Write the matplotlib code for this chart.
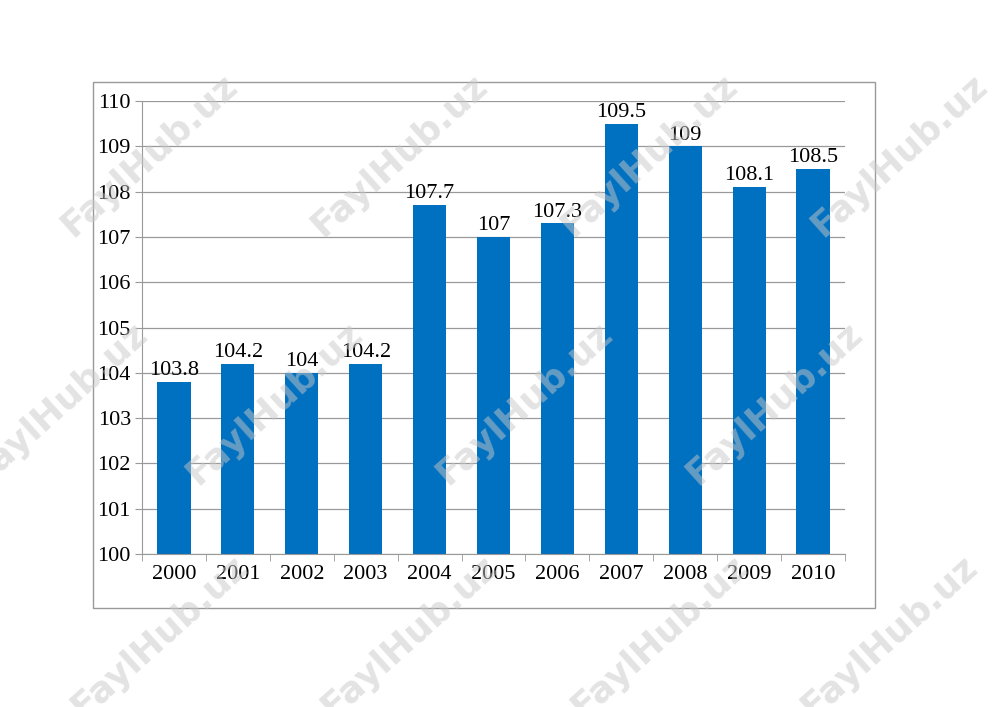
import matplotlib
matplotlib.use("Agg")
import matplotlib.pyplot as plt
from matplotlib.patches import Rectangle

# Data
years = ["2000", "2001", "2002", "2003", "2004", "2005",
         "2006", "2007", "2008", "2009", "2010"]
values = [103.8, 104.2, 104, 104.2, 107.7, 107, 107.3, 109.5, 109, 108.1, 108.5]
labels = ["103.8", "104.2", "104", "104.2", "107.7", "107", "107.3",
          "109.5", "109", "108.1", "108.5"]

plt.rcParams["font.family"] = ["Liberation Serif", "DejaVu Serif"]

fig = plt.figure(figsize=(10, 7.07), dpi=100)
fig.patch.set_facecolor("white")

# outer chart frame
fig.patches.append(Rectangle((0.093, 0.140), 0.782, 0.744, transform=fig.transFigure,
                             fill=False, edgecolor="#999999", linewidth=1.0))

ax = fig.add_axes([0.142, 0.2164, 0.703, 0.6407])
x = list(range(len(years)))
ax.bar(x, values, width=0.52, color="#0070C0", zorder=2)

for xi, v, lab in zip(x, values, labels):
    ax.text(xi, v + 0.04, lab, ha="center", va="bottom", fontsize=16, color="black", zorder=3)

ax.set_ylim(100, 110)
ax.set_xlim(-0.5, len(years) - 0.5)
ax.set_yticks(range(100, 111))
ax.set_xticks(x)
ax.set_xticklabels(years)
ax.set_xticks([i + 0.5 for i in range(-1, len(years))], minor=True)
ax.tick_params(axis="x", which="major", length=0, labelsize=16, pad=8)
ax.tick_params(axis="x", which="minor", length=5, color="#999999", direction="out")
ax.tick_params(axis="y", length=5, color="#999999", direction="out", labelsize=16, pad=3)
ax.grid(axis="y", color="#999999", linewidth=0.9, zorder=0)
ax.set_axisbelow(True)
for s in ["top", "right"]:
    ax.spines[s].set_visible(False)
ax.spines["left"].set_color("#999999")
ax.spines["bottom"].set_color("#999999")

# watermarks
marks = [(0.15, 0.78), (0.40, 0.78), (0.65, 0.78), (0.90, 0.78),
         (0.06, 0.43), (0.275, 0.43), (0.525, 0.43), (0.775, 0.43),
         (0.16, 0.10), (0.41, 0.10), (0.66, 0.10), (0.89, 0.10)]
for mx, my in marks:
    fig.text(mx, my, "FaylHub.uz", transform=fig.transFigure, rotation=42,
             ha="center", va="center", fontsize=26, fontweight="bold",
             family="DejaVu Sans", color="#c8c8c8", alpha=0.5, zorder=10)

fig.savefig("out.png", dpi=100)
